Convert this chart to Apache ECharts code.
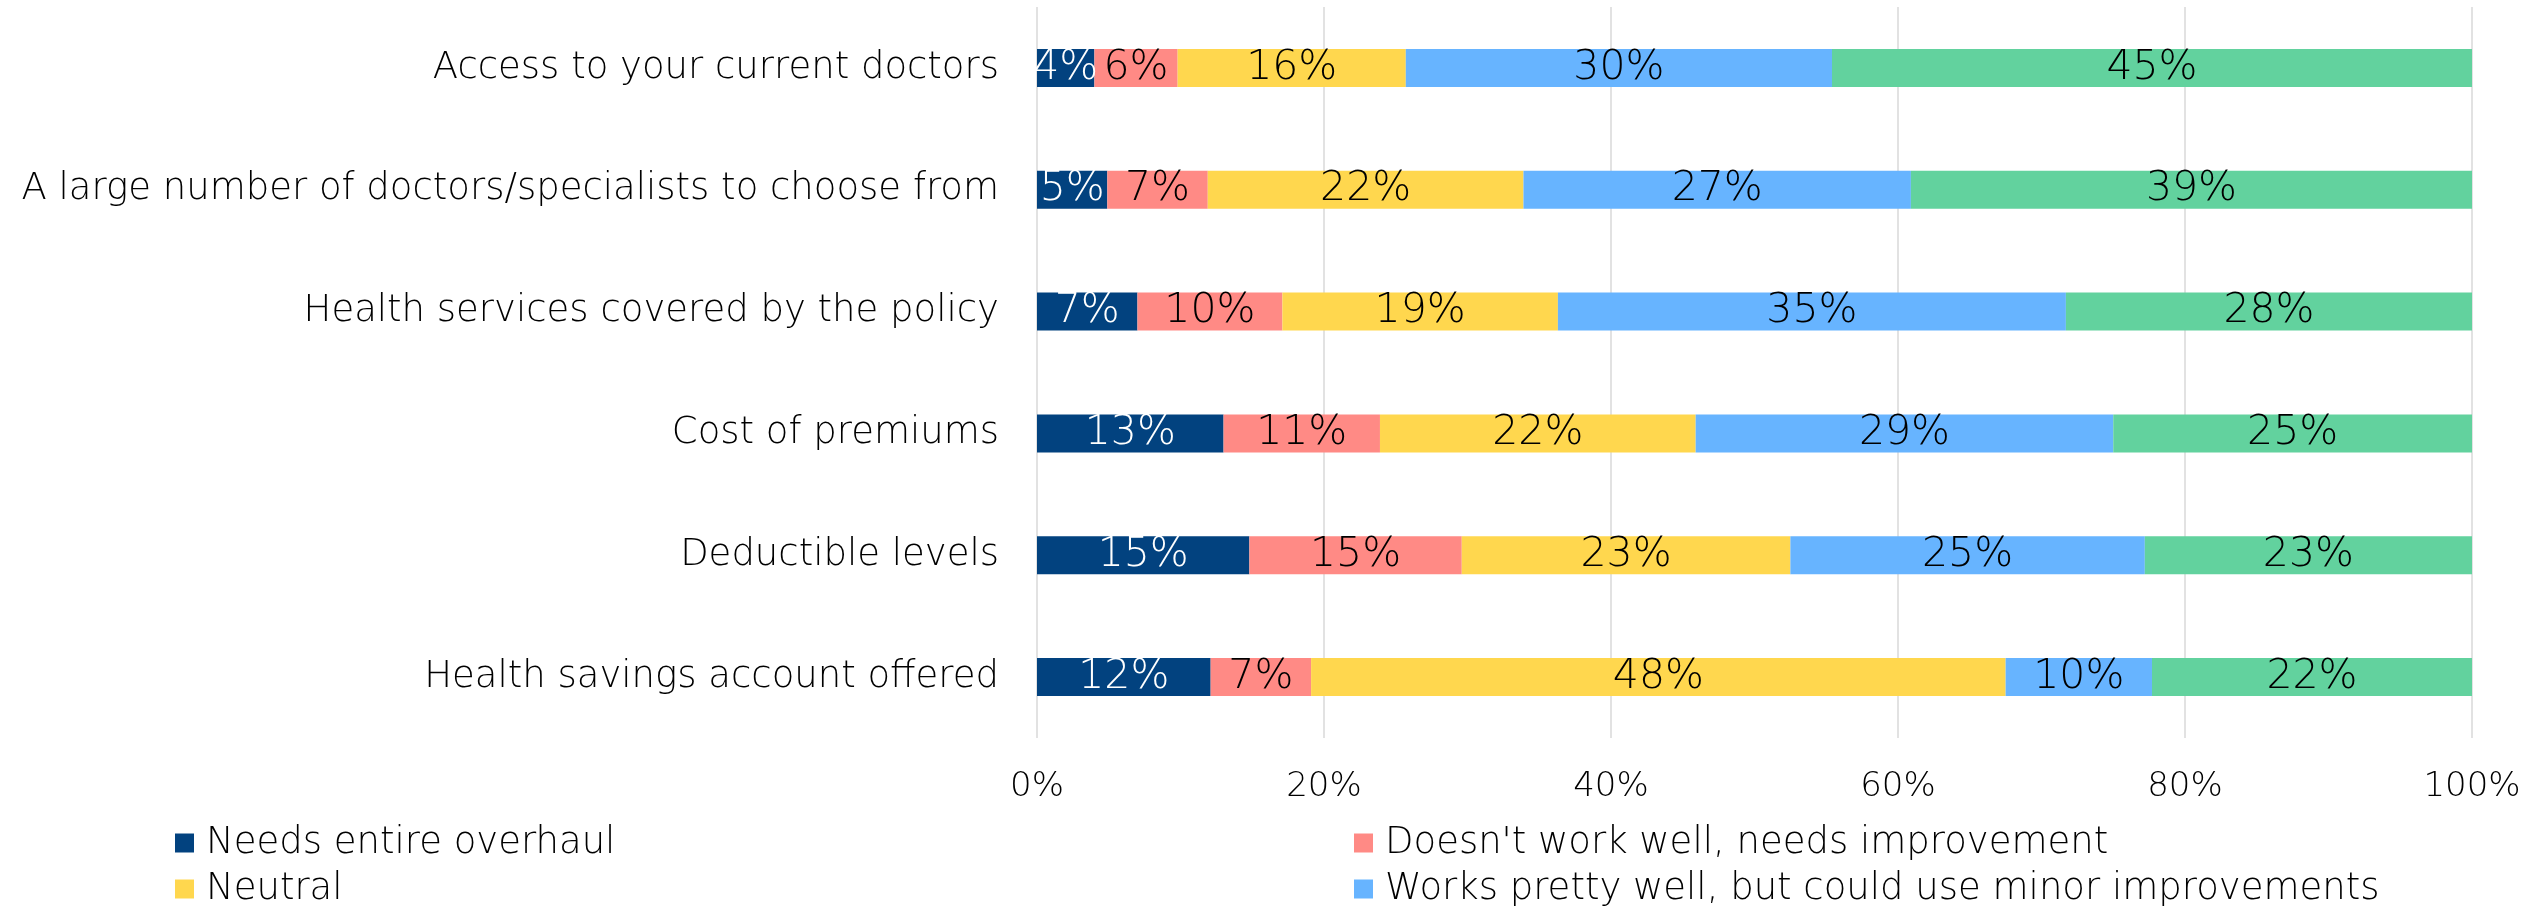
<!DOCTYPE html>
<html>
<head>
<meta charset="utf-8">
<script src="https://cdn.jsdelivr.net/npm/echarts@6/dist/echarts.min.js"></script>
<style>html,body{margin:0;padding:0;background:#fff;}#c{width:2534px;height:909px;}</style>
</head>
<body>
<div id="c"></div>
<script>
const categories = [
  "Access to your current doctors",
  "A large number of doctors/specialists to choose from",
  "Health services covered by the policy",
  "Cost of premiums",
  "Deductible levels",
  "Health savings account offered"
];
const seriesNames = [
  "Needs entire overhaul",
  "Doesn't work well, needs improvement",
  "Neutral",
  "Works pretty well, but could use minor improvements",
  "Works well, no changes needed"
];
const overhaul  = [4.0, 4.9, 7.0, 13.0, 14.8, 12.1];
const notWell   = [5.8, 7.0, 10.1, 10.9, 14.8, 7.0];
const neutral   = [15.9, 22.0, 19.2, 22.0, 22.9, 48.4];
const minorImp  = [29.7, 27.0, 35.4, 29.1, 24.7, 10.2];
const worksWell = [44.6, 39.1, 28.3, 25.0, 22.8, 22.3];
const xTicks = [0, 20, 40, 60, 80, 100];

const colors = ["#02427f", "#ff8a85", "#ffd74e", "#67b4ff", "#62d29e"];
const labelColors = ["#ffffff", "#000000", "#000000", "#000000", "#000000"];
const values = [overhaul, notWell, neutral, minorImp, worksWell];
const FONT = "DejaVu Sans";
const FW = 200;

const chart = echarts.init(document.getElementById('c'));
const series = seriesNames.map((name, i) => ({
  name: name,
  type: 'bar',
  stack: 'total',
  barWidth: 38,
  data: values[i],
  itemStyle: { color: colors[i] },
  label: {
    show: true,
    position: 'inside',
    formatter: p => Math.round(p.value) + '%',
    color: labelColors[i],
    fontFamily: FONT,
    fontWeight: FW,
    fontSize: 41
  },
  emphasis: { disabled: true }
}));

function legendAt(idx, left, top) {
  return {
    data: [seriesNames[idx]],
    left: left,
    top: top,
    orient: 'horizontal',
    icon: 'rect',
    itemWidth: 19,
    itemHeight: 19,
    selectedMode: false,
    padding: 0,
    textStyle: { fontFamily: FONT, fontWeight: FW, fontSize: 37, color: '#000', padding: [0, 0, 0, 7], lineHeight: 38 }
  };
}

chart.setOption({
  animation: false,
  backgroundColor: '#ffffff',
  grid: { left: 1037, right: 2534 - 2472, top: 7, bottom: 909 - 738, containLabel: false },
  xAxis: {
    type: 'value',
    min: 0,
    max: 100,
    interval: 20,
    axisLine: { show: false },
    axisTick: { show: false },
    splitLine: { show: true, lineStyle: { color: '#d9d9d9', width: 1.5 } },
    axisLabel: {
      formatter: v => xTicks.includes(v) ? v + '%' : '',
      fontFamily: FONT, fontWeight: FW, fontSize: 34, color: '#000', margin: 32
    }
  },
  yAxis: {
    type: 'category',
    data: categories,
    inverse: true,
    axisLine: { show: false },
    axisTick: { show: false },
    splitLine: { show: false },
    axisLabel: { fontFamily: FONT, fontWeight: FW, fontSize: 37, color: '#000', margin: 38 }
  },
  legend: [
    legendAt(0, 175, 824),
    legendAt(1, 1354, 824),
    legendAt(2, 175, 870),
    legendAt(3, 1354, 870)
  ],
  series: series
});
</script>
</body>
</html>
